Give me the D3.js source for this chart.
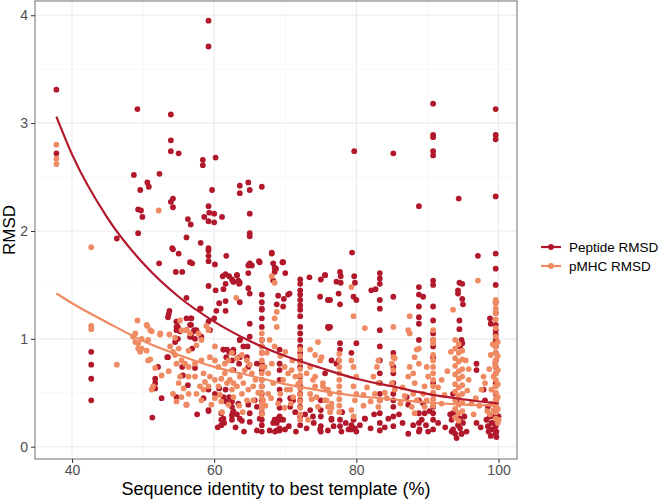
<!DOCTYPE html>
<html><head><meta charset="utf-8">
<script src="https://cdn.jsdelivr.net/npm/d3@7"></script>
<style>body{margin:0;background:#fff}svg{display:block;font-family:"Liberation Sans",Arial,sans-serif}</style>
</head><body><svg id="c" width="663" height="500"></svg>
<script>
// ---- data ----
const seriesNames = ["Peptide RMSD", "pMHC RMSD"];
const xTicks = [40, 60, 80, 100];
const yTicks = [0, 1, 2, 3, 4];

const peptidePoints = [
[37.8,3.31],[37.8,2.72],[59.2,3.95],[59.2,3.71],[49.2,3.13],[53.9,3.08],[53.9,2.84],[53.9,2.74],[55.0,2.72],
[58.4,2.66],[58.4,2.61],[60.2,2.68],[48.7,2.52],[52.3,2.53],[50.6,2.45],[50.8,2.41],[49.6,2.38],
[63.6,2.42],[64.8,2.45],[66.7,2.41],[63.6,2.35],[65.0,2.38],[59.7,2.38],[49.3,2.20],[49.7,2.19],[49.9,2.13],
[53.9,2.27],[54.2,2.30],[54.2,2.22],[56.3,2.11],[56.7,2.06],[59.2,2.23],[59.3,2.17],[60.0,2.16],[60.0,2.08],
[59.2,2.09],[58.6,2.13],[61.1,2.13],[65.0,2.16],[65.0,1.98],[65.0,1.95],[49.3,1.98],[46.3,1.93],[56.1,1.94],
[58.1,1.89],[54.1,1.84],[59.2,1.84],[90.8,3.18],[99.6,3.13],[90.8,2.89],[90.8,2.87],[99.6,2.89],[99.6,2.85],
[79.7,2.74],[85.2,2.72],[90.8,2.74],[90.8,2.70],[88.8,2.23],[94.4,2.30],[99.6,2.32],
[42.7,0.88],[42.7,0.76],[42.7,0.63],[42.7,0.43],
[54.2,1.83],[55.0,1.79],[59.2,1.82],[59.2,1.77],[59.2,1.72],[60.1,1.69],[61.7,1.77],[52.25,1.70],[56.6,1.71],
[56.9,1.70],[54.6,1.62],[55.5,1.62],[61.6,1.60],[62.1,1.58],[62.7,1.53],[61.6,1.51],[61.3,1.46],[60.2,1.45],
[59.2,1.49],[56.1,1.38],[61.6,1.35],[60.7,1.33],[58.1,1.28],[60.3,1.26],[61.6,1.26],[53.7,1.26],[53.6,1.23],
[53.5,1.20],[60.0,1.19],[54.7,1.16],[56.7,1.19],[54.9,1.11],[56.75,1.13],[54.7,1.08],[56.1,1.08],[57.2,1.08],
[56.6,1.02],[57.3,1.00],[54.9,1.00],[54.5,0.97],[56.9,0.91],[61.3,0.90],[62.1,0.88],[61.7,0.83],[53.5,0.83],
[55.5,0.74],[57.3,0.73],[55.6,0.66],[56.3,0.57],[59.2,0.53],[60.7,0.54],[61.6,0.53],[62.1,0.46],[61.3,0.46],
[61.7,0.42],[62.6,0.31],[61.3,0.26],[61.4,0.22],[59.2,0.33],[52.6,0.45],[51.3,0.27],[51.7,0.63],[60.1,0.49],
[51.7,0.59],[51.7,0.54],[54.7,0.46],[56.1,0.39],
[68.1,1.80],[66.3,1.72],[69.6,1.71],[64.8,1.68],[65.3,1.68],[64.8,1.61],[63.2,1.59],[63.4,1.54],[62.7,1.53],
[63.6,1.52],[68.3,1.54],[68.5,1.66],[68.5,1.62],[64.8,1.47],[65.0,1.42],[63.6,1.34],[69.0,1.40],[69.8,1.37],
[70.4,1.41],[70.6,1.42],[69.7,1.30],[65.0,1.14],[63.6,0.99],[64.7,0.93],[62.7,0.87],[68.8,1.32],
[73.4,1.57],[75.0,1.55],[75.6,1.59],[74.9,1.39],[76.0,1.36],[76.0,1.11],[71.1,0.43],[70.7,0.37],[71.4,0.32],
[73.5,0.34],[73.9,0.28],[62.5,0.42],[62.7,0.33],[62.5,0.25],[63.4,0.40],[63.2,0.30],[63.9,0.24],[64.8,0.39],
[65.0,0.31],[65.7,0.43],[66.0,0.37],
[79.4,1.80],[75.6,1.59],[77.7,1.62],[77.8,1.58],[77.2,1.53],[77.8,1.52],[77.5,1.42],[76.3,1.36],[77.7,1.32],
[79.7,1.58],[79.8,1.52],[79.6,1.39],[80.0,1.36],[82.7,1.46],[82.1,1.45],[85.2,1.39],[76.3,1.11],[76.1,1.10],
[77.7,0.96],[77.7,0.90],[80.0,0.96],[79.3,0.87],[77.5,0.80],[76.5,0.80],[77.2,0.77],[77.7,0.25],[77.7,0.19],
[77.9,0.14],[78.9,0.16],[79.3,0.20],[79.8,0.17],[80.0,0.14],[79.6,0.25],[81.2,0.26],[87.1,0.46],[87.3,0.39],
[76.5,0.25],[76.8,0.19],[75.6,0.68],
[97.1,1.77],[90.8,1.54],[90.8,1.50],[94.5,1.52],[94.9,1.51],[94.3,1.45],[94.3,1.42],[94.9,1.37],[95.0,1.32],
[89.4,1.39],[94.5,1.17],[94.5,1.09],[94.8,0.99],[94.9,0.96],[94.6,0.93],[98.8,1.19],[98.9,1.14],[96.9,0.77],
[96.9,0.71],[93.6,0.49],[94.1,0.43],[93.6,0.31],[93.4,0.25],[93.6,0.16],[93.9,0.12],[94.6,0.17],[95.0,0.22],
[94.8,0.12],[98.5,0.37],[98.8,0.28],[98.5,0.19],[99.0,0.16],[99.7,0.14],[99.5,0.22],[100,0.28],[98.3,0.25],
[88.9,0.16],[89.2,0.25],[89.6,0.31],[89.4,0.40],[97.9,0.53],[98.1,0.43],
[61.2,1.58],[62.5,1.55],[63.2,1.59],[63.5,1.51],[65.0,1.70],[66.4,1.71],[68.3,1.70],[68.1,1.79],[68.7,1.65],
[69.7,1.71],[70.0,1.61],[63.6,0.99],[65.0,1.02],[64.1,0.93],[61.3,0.90],[61.8,0.90],[62.7,0.90],[62.5,0.80],
[63.5,0.77],[63.6,0.83],[64.6,0.83],[64.8,0.74],[66.0,0.77],[53.4,0.83],[52.1,0.74],[54.7,1.16],[54.7,1.11],
[55.2,1.07],[56.1,1.19],[56.8,1.19],[56.6,1.13],[57.1,1.07],[58.0,1.28],[57.5,1.08],[59.2,1.16],[59.4,1.08],
[56.8,1.02],[58.2,1.02],[59.2,0.34],[61.0,0.31],[61.0,0.25],[61.0,0.20],[62.5,0.29],[62.5,0.37],[63.6,0.26],
[65.0,0.23],[66.4,0.26],[67.8,0.15],[68.3,0.22],[68.5,0.25],[68.8,0.15],[69.0,0.26],
[68.8,0.22],[68.55,0.14],[69.7,0.25],[69.96,0.16],[70.7,0.45],[74.9,0.16],[76.5,0.26],[79.3,0.16],
[81.2,0.26],[87.3,0.12],[90.1,0.14],[93.4,0.14],[94.1,0.08],[94.8,0.12],[95.5,0.14],[98.6,0.14],[99.7,0.09],
[99.0,0.22],[96.9,0.22],[62.7,0.71],[58.5,0.45],[57.6,0.30],
[60.5,0.18],[63.0,0.18],[64.2,0.14],[66.0,0.15],[70.5,0.19],[71.5,0.14],[73.0,0.17],[74.0,0.22],[76.0,0.15],
[78.5,0.22],[80.5,0.20],[82.0,0.17],[84.0,0.18],[84.5,0.26],[86.5,0.22],[88.0,0.20],[89.8,0.20],[91.5,0.22],
[92.5,0.18],[94.3,0.20],[94.6,0.26],[95.2,0.28],[97.5,0.18],[98.9,0.10],[99.4,0.28],[99.8,0.35],[93.2,0.30],
[90.3,0.33],[86.0,0.30],[82.5,0.30],[78.0,0.32],[72.8,0.30]
];

const peptideColumns = [
[66.7,[1.41,1.34,1.28,1.27,1.19,1.11,0.99,0.93,0.87,0.77,0.71,0.62,0.56,0.49,0.43,0.31,0.25,0.20,0.14]],
[72.1,[1.55,1.51,1.45,1.41,1.36,1.31,1.27,1.21,1.11,1.05,0.99,0.93,0.87,0.80,0.74,0.65,0.56,0.49,0.43,0.37,0.28,0.20]],
[69.2,[0.90,0.77,0.71,0.62,0.53,0.43,0.36,0.28,0.25,0.17,0.15]],
[75.0,[0.43,0.34,0.28,0.19,0.14]],
[83.3,[1.61,1.56,1.51,1.36,1.28,1.08,0.93,0.80,0.68,0.59,0.49,0.43,0.31,0.22,0.15]],
[85.2,[0.87,0.74,0.68,0.59,0.49,0.43,0.37,0.28,0.19]],
[88.8,[1.48,1.41,1.30,1.20,1.14,0.99,0.43,0.31,0.22,0.14]],
[90.8,[1.30,1.17,1.05,0.99,0.93,0.83,0.59,0.49,0.37,0.31,0.25,0.16]],
[99.6,[1.79,1.65,1.50,1.34,1.24,1.13,1.08,1.04,1.00,0.97,0.93,0.87,0.80,0.74,0.68,0.59,0.49,0.40,0.31,0.25,0.19,0.12]]
];

const pmhcPoints = [
[37.8,2.80],[37.8,2.67],[37.8,2.62],[42.7,1.85],[52.2,2.19],[42.7,1.12],[42.7,1.09],[46.3,0.76],
[49.2,1.17],[50.5,1.13],[51.2,1.07],[52.4,1.05],[48.6,1.02],[48.9,0.97],[49.3,0.91],[49.6,0.88],[50.7,0.80],
[51.7,0.73],[50.6,1.12],[51.0,1.08],[52.4,1.04],[49.8,1.00],[50.7,0.99],[49.3,0.96],[49.8,0.91],[50.5,0.89],
[51.0,0.81],[51.4,0.56],[51.2,0.53],[52.6,0.66],[53.6,0.70],[53.7,1.04],[54.5,1.01],[55.2,1.17],[55.4,1.08],
[56.1,1.08],[56.6,1.05],[57.8,1.05],[58.9,1.12],[59.2,1.08],[60.1,0.93],[58.2,0.99],[57.5,0.94],[56.4,0.89],
[55.0,0.91],[54.2,0.88],[53.8,0.93],[54.5,0.85],[55.4,0.80],[54.7,0.77],[55.9,0.77],[56.4,0.74],[57.3,0.77],
[58.2,0.80],[59.4,0.83],[60.1,0.80],[60.6,0.74],[61.5,0.77],[62.0,0.80],[62.5,0.71],[61.5,0.68],[61.0,0.63],
[60.1,0.62],[59.4,0.65],[58.5,0.68],[57.3,0.65],[56.4,0.65],[55.2,0.65],[55.0,0.59],[55.7,0.54],[56.4,0.49],
[55.4,0.46],[54.7,0.42],[56.1,0.39],[57.5,0.49],[58.5,0.53],[59.2,0.56],[60.6,0.56],[61.8,0.59],[60.1,0.45],
[61.0,0.42],[58.2,0.43],[59.6,0.39],[62.5,0.53],[62.0,0.39],[61.1,0.32],[58.7,0.60],[58.0,0.56],[54.2,0.49],
[48.9,1.05],
[68.1,1.58],[68.5,1.52],[63.1,1.38],[68.8,1.25],[68.5,1.19],[68.8,1.11],[68.5,0.93],[74.6,0.97],[74.2,0.85],
[75.1,0.83],[62.5,0.87],[63.2,0.82],[63.9,0.85],[64.6,0.80],[65.0,0.76],[64.3,0.71],[65.3,0.68],[63.6,0.65],
[62.7,0.59],[63.2,0.56],[64.1,0.59],[64.8,0.53],[65.5,0.56],[63.9,0.49],[62.7,0.46],[64.6,0.43],[65.5,0.43],
[67.8,0.99],[67.4,0.87],[68.1,0.77],[67.1,0.74],[67.6,0.68],[68.3,0.59],[67.6,0.49],[66.9,0.43],[69.3,0.84],
[69.9,0.74],[70.4,0.68],[69.7,0.62],[70.2,0.53],[69.3,0.49],[69.0,0.40],[69.9,0.36],[70.9,0.71],[71.4,0.65],
[70.7,0.53],[71.1,0.46],[73.5,0.74],[73.0,0.68],[73.9,0.62],[74.2,0.56],[73.5,0.49],[74.4,0.46],[75.3,0.59],
[75.8,0.53],[75.6,0.43],[76.0,0.37],[73.5,0.90],[74.9,0.80],[74.2,0.65],[75.3,0.56],[76.3,0.49],[73.7,0.44],
[74.6,0.37],[76.5,0.36],[73.2,0.25],
[79.3,1.48],[79.6,1.21],[81.2,1.10],[85.2,1.11],[87.5,1.21],[87.3,1.08],[87.5,1.05],[88.8,0.91],[88.5,0.90],
[88.2,0.83],[88.8,0.77],[88.0,0.68],[85.2,0.83],[85.4,0.82],[85.0,0.77],[85.2,0.71],[79.3,0.80],[79.6,0.74],
[80.0,0.65],[79.6,0.56],[80.0,0.49],[79.8,0.43],[79.3,0.34],[79.6,0.28],[83.1,0.80],[82.9,0.74],[82.4,0.65],
[83.1,0.59],[82.6,0.49],[83.3,0.43],[83.1,0.37],[85.0,0.59],[85.4,0.53],[87.5,0.74],[87.3,0.65],[88.2,0.59],
[88.0,0.49],[88.5,0.43],[87.8,0.37],[88.2,0.31],[76.0,0.53],[75.8,0.43],[76.5,0.40],[76.3,0.32],[81.5,0.55],
[84.3,0.45],[86.2,0.40],[81.0,0.38],
[97.1,1.54],[93.6,1.27],[99.5,0.77],[99.3,0.65],[99.0,0.53],[99.7,0.43],[99.3,0.34],[100,0.25],[97.9,0.65],
[98.1,0.59],[97.6,0.53],[89.9,0.74],[90.1,0.65],[89.6,0.56],[89.4,0.49],[89.9,0.43],[89.6,0.37],[96.8,0.45],
[97.3,0.38],[98.4,0.33],[92.4,0.48],[92.0,0.40],[95.8,0.62],[95.6,0.52],
[81.0,0.48],[82.0,0.42],[84.0,0.50],[86.5,0.55],[86.8,0.47],[91.5,0.55],[92.0,0.62],[92.8,0.70],[93.3,0.88],
[95.4,0.80],[95.8,0.72],[96.2,0.40],[96.5,0.30],[98.7,0.72],[98.9,0.85],[99.2,0.95],[99.0,0.40],[98.8,0.30],
[60.8,0.48],[62.2,0.62],[63.5,0.38],[64.0,0.32],[65.8,0.62],[66.2,0.50],[67.2,0.38],[68.0,0.45],[70.8,0.40],
[71.8,0.58],[70.0,0.88],[71.0,0.80]
];

const pmhcColumns = [
[66.7,[1.05,0.99,0.93,0.87,0.80,0.74,0.68,0.62,0.56,0.50,0.45,0.40,0.35,0.30]],
[72.1,[0.90,0.84,0.78,0.72,0.66,0.60,0.54,0.48,0.42,0.36,0.30,0.25]],
[77.6,[0.86,0.80,0.74,0.68,0.62,0.56,0.50,0.44,0.38,0.32]],
[90.8,[1.08,0.99,0.96,0.85,0.80,0.74,0.68,0.62,0.56,0.50,0.44,0.38]],
[93.9,[0.99,0.91,0.82,0.75,0.67,0.58,0.51,0.43,0.35,0.27]],
[94.4,[0.95,0.87,0.79,0.70,0.63,0.55,0.47,0.39,0.31,0.24]],
[94.9,[0.89,0.81,0.72,0.65,0.57,0.49,0.41,0.33]],
[99.6,[1.36,1.33,1.28,1.24,1.18,1.10,1.02,0.93,0.87,0.80,0.74,0.68,0.62,0.56,0.50,0.44,0.38,0.32,0.26]],
[99.9,[0.97,0.84,0.71,0.58,0.46,0.35,0.22]]
];

const trendX       = [37.8, 40, 45, 50, 55, 60, 65, 70, 75, 80, 85, 90, 95, 100];
const peptideTrend = [3.06, 2.71, 2.12, 1.70, 1.39, 1.16, 0.98, 0.84, 0.73, 0.63, 0.56, 0.49, 0.44, 0.40];
const pmhcTrend    = [1.42, 1.33, 1.15, 0.98, 0.85, 0.74, 0.66, 0.58, 0.52, 0.47, 0.44, 0.41, 0.39, 0.38];

const colors = ["#B2182B", "#EF8A62"];

// ---- build ----
const expand = (pts, cols) => pts.concat(cols.flatMap(([x, ys]) => ys.map(y => [x, y])));
const series = [
  {name: seriesNames[0], color: colors[0], pts: expand(peptidePoints, peptideColumns), trend: peptideTrend},
  {name: seriesNames[1], color: colors[1], pts: expand(pmhcPoints, pmhcColumns), trend: pmhcTrend}
];

const svg = d3.select("#c");
const P = {l: 35, r: 517, t: 1, b: 459};
const x = d3.scaleLinear().domain([34.79, 102.6]).range([P.l, P.r]);
const y = d3.scaleLinear().domain([-0.114, 4.132]).range([P.b, P.t]);

const g = svg.append("g");
// grid
const minorX = [50, 70, 90];
const minorY = [0.5, 1.5, 2.5, 3.5];
g.selectAll(".mx").data(minorX).join("line").attr("x1", d => x(d)).attr("x2", d => x(d))
  .attr("y1", P.t).attr("y2", P.b).attr("stroke", "#F2F2F2").attr("stroke-width", 0.6);
g.selectAll(".my").data(minorY).join("line").attr("y1", d => y(d)).attr("y2", d => y(d))
  .attr("x1", P.l).attr("x2", P.r).attr("stroke", "#F2F2F2").attr("stroke-width", 0.6);
g.selectAll(".gx").data(xTicks).join("line").attr("x1", d => x(d)).attr("x2", d => x(d))
  .attr("y1", P.t).attr("y2", P.b).attr("stroke", "#EBEBEB").attr("stroke-width", 1.1);
g.selectAll(".gy").data(yTicks).join("line").attr("y1", d => y(d)).attr("y2", d => y(d))
  .attr("x1", P.l).attr("x2", P.r).attr("stroke", "#EBEBEB").attr("stroke-width", 1.1);

// points
series.forEach(s => {
  g.append("g").selectAll("circle").data(s.pts).join("circle")
    .attr("cx", d => x(d[0])).attr("cy", d => y(d[1])).attr("r", 2.9).attr("fill", s.color);
});
// trend curves
const line = d3.line().x((d, i) => x(trendX[i])).y(d => y(d)).curve(d3.curveMonotoneX);
series.forEach(s => {
  g.append("path").attr("d", line(s.trend)).attr("fill", "none").attr("stroke", s.color).attr("stroke-width", 2.2);
});

// border
g.append("rect").attr("x", P.l).attr("y", P.t).attr("width", P.r - P.l).attr("height", P.b - P.t)
  .attr("fill", "none").attr("stroke", "#7a7a7a").attr("stroke-width", 1.1);

// axes
const xAxis = d3.axisBottom(x).tickValues(xTicks).tickSize(4).tickPadding(2).tickFormat(d3.format("d"));
const yAxis = d3.axisLeft(y).tickValues(yTicks).tickSize(4).tickPadding(3).tickFormat(d3.format("d"));
const ax = svg.append("g").attr("transform", `translate(0,${P.b})`).call(xAxis);
const ay = svg.append("g").attr("transform", `translate(${P.l},0)`).call(yAxis);
[ax, ay].forEach(a => {
  a.select(".domain").remove();
  a.selectAll(".tick line").attr("stroke", "#333");
  a.selectAll(".tick text").attr("fill", "#4D4D4D").style("font-size", "14px").style("font-family", "'Liberation Sans',Arial,sans-serif");
});

// titles
svg.append("text").attr("x", (P.l + P.r) / 2).attr("y", 495).attr("text-anchor", "middle")
  .style("font-size", "18px").attr("fill", "#000").text("Sequence identity to best template (%)");
svg.append("text").attr("transform", `translate(15,${(P.t + P.b) / 2}) rotate(-90)`).attr("text-anchor", "middle")
  .style("font-size", "17px").attr("fill", "#000").text("RMSD");

// legend
const lg = svg.append("g");
series.forEach((s, i) => {
  const yy = 247 + i * 19;
  lg.append("line").attr("x1", 541).attr("x2", 561).attr("y1", yy).attr("y2", yy).attr("stroke", s.color).attr("stroke-width", 2.2);
  lg.append("circle").attr("cx", 551).attr("cy", yy).attr("r", 2.9).attr("fill", s.color);
  lg.append("text").attr("x", 569).attr("y", yy + 5).style("font-size", "13.5px").attr("fill", "#000").text(s.name);
});
</script></body></html>
